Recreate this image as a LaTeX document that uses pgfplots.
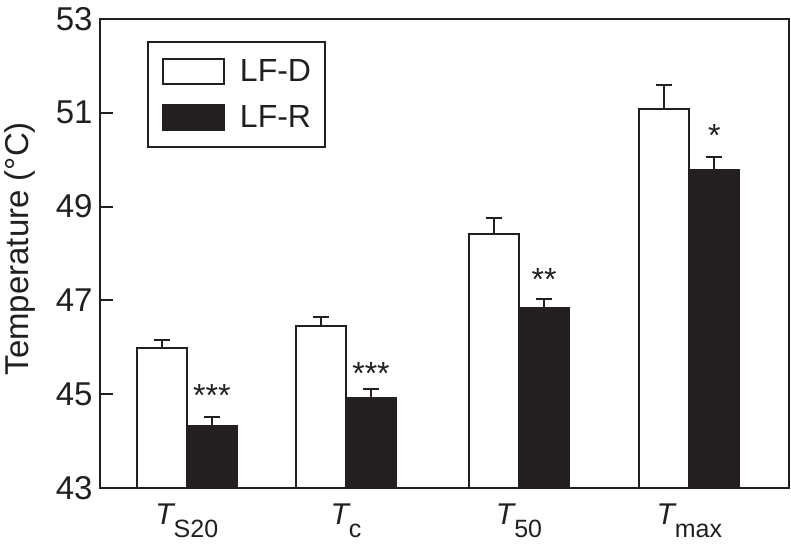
\documentclass[border=0pt]{standalone}
\usepackage{pgfplots}
\pgfplotsset{compat=1.18}
\usepackage{fontspec}
\setmainfont{Liberation Sans}
\definecolor{ink}{HTML}{231F20}
\begin{document}
\begin{tikzpicture}
\begin{axis}[
  scale only axis, width=344.5pt, height=234.5pt,
  xmin=1.0, xmax=7.89, ymin=43, ymax=53,
  ytick={43,45,47,49,51,53},
  xtick={1.868,3.46,5.19,6.893},
  xticklabels={
    {{\fontsize{15}{18}\selectfont\itshape T}\raisebox{-6.5pt}{\fontsize{12.5}{14}\selectfont S20}},
    {{\fontsize{15}{18}\selectfont\itshape T}\raisebox{-6.5pt}{\fontsize{12.5}{14}\selectfont c}},
    {{\fontsize{15}{18}\selectfont\itshape T}\raisebox{-6.5pt}{\fontsize{12.5}{14}\selectfont 50}},
    {{\fontsize{15}{18}\selectfont\itshape T}\raisebox{-6.5pt}{\fontsize{12.5}{14}\selectfont max}}},
  x tick style={draw=none},
  ytick pos=left, tick align=inside, major tick length=6.5pt,
  y tick style={line width=1pt, draw=ink},
  axis line style={line width=1.2pt, draw=ink},
  axis on top,
  /pgf/number format/assume math mode=true,
  tick label style={font=\fontsize{16.5}{19}\selectfont, text=ink},
  yticklabel style={inner sep=0pt, xshift=-3.5pt},
  xticklabel style={inner sep=0pt, anchor=north, yshift=-7.5pt},
  ylabel={Temperature (°C)},
  ylabel style={at={(axis description cs:-0.116,0.51)}, anchor=center, font=\fontsize{16.5}{19}\selectfont, text=ink},
  legend style={at={(axis description cs:0.0682,0.953)}, anchor=north west, draw=ink, line width=1pt,
    inner xsep=7pt, inner ysep=8pt, row sep=9.5pt, column sep=7.5pt,
    font=\fontsize{16}{19}\selectfont, text=ink, nodes={inner sep=0pt}},
  legend cell align=left,
  legend image code/.code={\draw[#1, line width=1pt] (0pt,-6.25pt) rectangle (30.5pt,6.25pt);},
]
\addplot[ybar, bar width=0.5, bar shift=0, fill=white, draw=ink, line width=1pt,
  error bars/.cd, y dir=plus, y explicit,
  error bar style={line width=1pt, draw=ink},
  error mark options={rotate=90, mark size=4pt, line width=1pt, draw=ink}]
  coordinates {(1.618,45.98) +- (0,0.18) (3.21,46.45) +- (0,0.19) (4.94,48.41) +- (0,0.34) (6.643,51.09) +- (0,0.51)};
\addlegendentry{LF-D}
\addplot[ybar, bar width=0.5, bar shift=0, fill=ink, draw=ink, line width=1pt,
  error bars/.cd, y dir=plus, y explicit,
  error bar style={line width=1pt, draw=ink},
  error mark options={rotate=90, mark size=4pt, line width=1pt, draw=ink}]
  coordinates {(2.118,44.33) +- (0,0.19) (3.71,44.91) +- (0,0.20) (5.44,46.84) +- (0,0.18) (7.143,49.79) +- (0,0.26)};
\addlegendentry{LF-R}
\node[anchor=base, inner sep=0pt, font=\fontsize{16}{19}\selectfont, text=ink] at (axis cs:2.118,44.74) {***};
\node[anchor=base, inner sep=0pt, font=\fontsize{16}{19}\selectfont, text=ink] at (axis cs:3.71,45.21) {***};
\node[anchor=base, inner sep=0pt, font=\fontsize{16}{19}\selectfont, text=ink] at (axis cs:5.44,47.22) {**};
\node[anchor=base, inner sep=0pt, font=\fontsize{16}{19}\selectfont, text=ink] at (axis cs:7.143,50.28) {*};
\end{axis}
\pgfresetboundingbox
\path (current axis.south west) ++(-50pt,-28.5pt) rectangle ++(395.5pt,272.5pt);
\end{tikzpicture}
\end{document}
